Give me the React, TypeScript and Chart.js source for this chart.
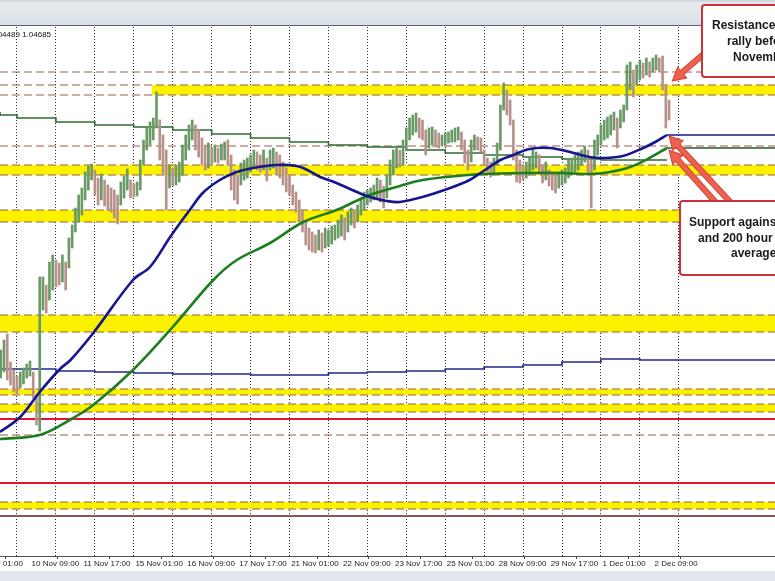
import React, { useEffect, useRef } from "react";
import { Chart, registerables } from "chart.js";

Chart.register(...registerables);

// ---------- axis ranges (hours from 10 Nov 09:00, EURUSD price) ----------
const X_MIN = -19.48;
const X_MAX = 458.3;
const Y_MIN = 0.9588;
const Y_MAX = 1.0646;

// ---------- time axis ----------
const LABEL_HOURS = [-32, 0, 32, 64, 96, 128, 160, 192, 224, 256, 288, 320, 352, 384];
const LABEL_TEXTS = [
  "9 Nov 01:00", "10 Nov 09:00", "11 Nov 17:00", "15 Nov 01:00", "16 Nov 09:00",
  "17 Nov 17:00", "21 Nov 01:00", "22 Nov 09:00", "23 Nov 17:00", "25 Nov 01:00",
  "28 Nov 09:00", "29 Nov 17:00", "1 Dec 01:00", "2 Dec 09:00",
];
const DAY_STARTS = [-9, 15, 39, 63, 87, 111, 135, 159, 183, 207, 231, 255, 279, 303, 327, 351, 375, 399];

// ---------- price bars (2-hour groups) ----------
const BAR_START_HOUR = -19;
const BAR_STEP_HOURS = 2;
const HIGHS = [
  1.0000, 1.0020, 1.0032, 0.9976, 0.9960, 0.9948, 0.9956, 0.9964, 0.9972, 0.9978,
  0.9956, 0.9910, 1.0146, 1.0146, 1.0130, 1.0176, 1.0190, 1.0180, 1.0174, 1.0190,
  1.0176, 1.0224, 1.0250, 1.0284, 1.0310, 1.0324, 1.0356, 1.0368, 1.0372, 1.0360,
  1.0344, 1.0352, 1.0340, 1.0330, 1.0324, 1.0320, 1.0310, 1.0336, 1.0348, 1.0362,
  1.0340, 1.0332, 1.0336, 1.0380, 1.0420, 1.0444, 1.0456, 1.0464, 1.0516, 1.0460,
  1.0430, 1.0400, 1.0370, 1.0364, 1.0370, 1.0376, 1.0410, 1.0430, 1.0450, 1.0460,
  1.0450, 1.0440, 1.0424, 1.0410, 1.0414, 1.0404, 1.0410, 1.0404, 1.0412, 1.0416,
  1.0420, 1.0390, 1.0360, 1.0350, 1.0374, 1.0380, 1.0384, 1.0390, 1.0400, 1.0396,
  1.0390, 1.0400, 1.0384, 1.0400, 1.0404, 1.0396, 1.0390, 1.0376, 1.0364, 1.0350,
  1.0330, 1.0316, 1.0300, 1.0280, 1.0256, 1.0244, 1.0236, 1.0230, 1.0240, 1.0234,
  1.0244, 1.0240, 1.0248, 1.0250, 1.0260, 1.0270, 1.0264, 1.0276, 1.0284, 1.0280,
  1.0290, 1.0304, 1.0316, 1.0320, 1.0324, 1.0330, 1.0344, 1.0340, 1.0328, 1.0350,
  1.0380, 1.0400, 1.0406, 1.0400, 1.0420, 1.0444, 1.0464, 1.0470, 1.0474, 1.0464,
  1.0460, 1.0440, 1.0444, 1.0446, 1.0440, 1.0434, 1.0430, 1.0434, 1.0436, 1.0440,
  1.0444, 1.0446, 1.0436, 1.0420, 1.0400, 1.0420, 1.0430, 1.0426, 1.0424, 1.0400,
  1.0384, 1.0376, 1.0384, 1.0414, 1.0490, 1.0534, 1.0520, 1.0500, 1.0460, 1.0400,
  1.0380, 1.0370, 1.0376, 1.0384, 1.0400, 1.0396, 1.0390, 1.0370, 1.0376, 1.0360,
  1.0356, 1.0350, 1.0356, 1.0360, 1.0364, 1.0380, 1.0384, 1.0390, 1.0396, 1.0400,
  1.0408, 1.0400, 1.0380, 1.0420, 1.0430, 1.0450, 1.0460, 1.0466, 1.0470, 1.0476,
  1.0464, 1.0480, 1.0490, 1.0570, 1.0576, 1.0560, 1.0570, 1.0580, 1.0574, 1.0584,
  1.0576, 1.0584, 1.0590, 1.0584, 1.0588, 1.0530, 1.0500,
];
const LOWS = [
  0.9944, 0.9956, 0.9940, 0.9930, 0.9916, 0.9912, 0.9924, 0.9932, 0.9944, 0.9948,
  0.9904, 0.9850, 0.9838, 1.0080, 1.0074, 1.0100, 1.0120, 1.0126, 1.0130, 1.0136,
  1.0120, 1.0164, 1.0204, 1.0236, 1.0256, 1.0270, 1.0300, 1.0320, 1.0340, 1.0310,
  1.0290, 1.0300, 1.0288, 1.0280, 1.0276, 1.0264, 1.0252, 1.0290, 1.0304, 1.0320,
  1.0304, 1.0306, 1.0308, 1.0320, 1.0370, 1.0400, 1.0410, 1.0420, 1.0444, 1.0380,
  1.0350, 1.0280, 1.0324, 1.0328, 1.0330, 1.0336, 1.0350, 1.0380, 1.0400, 1.0420,
  1.0400, 1.0386, 1.0370, 1.0360, 1.0364, 1.0370, 1.0376, 1.0374, 1.0380, 1.0380,
  1.0370, 1.0320, 1.0300, 1.0292, 1.0330, 1.0340, 1.0344, 1.0356, 1.0364, 1.0360,
  1.0356, 1.0360, 1.0338, 1.0360, 1.0364, 1.0350, 1.0344, 1.0330, 1.0316, 1.0310,
  1.0290, 1.0276, 1.0256, 1.0236, 1.0210, 1.0200, 1.0196, 1.0194, 1.0200, 1.0196,
  1.0204, 1.0208, 1.0212, 1.0220, 1.0224, 1.0228, 1.0220, 1.0236, 1.0250, 1.0244,
  1.0256, 1.0270, 1.0280, 1.0290, 1.0296, 1.0300, 1.0304, 1.0296, 1.0284, 1.0304,
  1.0330, 1.0350, 1.0364, 1.0366, 1.0370, 1.0400, 1.0420, 1.0430, 1.0436, 1.0424,
  1.0420, 1.0390, 1.0404, 1.0410, 1.0406, 1.0404, 1.0408, 1.0410, 1.0414, 1.0416,
  1.0416, 1.0420, 1.0400, 1.0374, 1.0360, 1.0376, 1.0400, 1.0400, 1.0396, 1.0370,
  1.0356, 1.0346, 1.0350, 1.0370, 1.0400, 1.0480, 1.0470, 1.0450, 1.0380, 1.0336,
  1.0334, 1.0340, 1.0344, 1.0350, 1.0360, 1.0364, 1.0356, 1.0334, 1.0340, 1.0328,
  1.0320, 1.0314, 1.0324, 1.0330, 1.0334, 1.0344, 1.0350, 1.0356, 1.0360, 1.0370,
  1.0376, 1.0350, 1.0284, 1.0360, 1.0390, 1.0410, 1.0420, 1.0424, 1.0430, 1.0440,
  1.0404, 1.0444, 1.0456, 1.0480, 1.0520, 1.0506, 1.0530, 1.0540, 1.0544, 1.0550,
  1.0546, 1.0556, 1.0560, 1.0556, 1.0520, 1.0444, 1.0460,
];

// ---------- moving averages (hour, price) ----------
const MA100_HOURS = [-19.5, -7, 5, 17.5, 24, 38, 62.5, 73, 85, 91.5, 97.5, 105.5, 116, 126.5, 136.5, 151, 163.5, 170, 178, 188, 200.5, 208.5, 219, 227, 241, 258, 270, 279.5, 289, 297, 307, 319.5, 332, 344, 352, 364.5, 377, 384.5, 391.7];
const MA100_VALUES = [0.9836, 0.9866, 0.9916, 0.9962, 0.9980, 1.0034, 1.0140, 1.0166, 1.0224, 1.0254, 1.0280, 1.0314, 1.0340, 1.0356, 1.0364, 1.0370, 1.0368, 1.0360, 1.0346, 1.0334, 1.0316, 1.0306, 1.0298, 1.0296, 1.0306, 1.0324, 1.0340, 1.0360, 1.0380, 1.0390, 1.0402, 1.0404, 1.0396, 1.0386, 1.0384, 1.0388, 1.0404, 1.0416, 1.0430];
const MA200_HOURS = [-19.5, 5, 23.5, 38, 62.5, 87, 112, 126.5, 147, 167.5, 188, 208.5, 227, 241, 262.5, 278.5, 303, 327.5, 344, 356.5, 369, 381, 391.7];
const MA200_VALUES = [0.9822, 0.9830, 0.9860, 0.9890, 0.9960, 1.0046, 1.0140, 1.0180, 1.0214, 1.0256, 1.0280, 1.0310, 1.0328, 1.0340, 1.0348, 1.0352, 1.0354, 1.0354, 1.0352, 1.0356, 1.0366, 1.0384, 1.0404];
const MA_LAST_HOUR = 391.7;

// ---------- daily step averages (one value per day segment) ----------
const GREEN_STEP_VALUES = [1.0476, 1.0470, 1.0464, 1.0456, 1.0450, 1.0446, 1.0440, 1.0432, 1.0424, 1.0416, 1.0410, 1.0406, 1.0400, 1.0394, 1.0390, 1.0386, 1.0382, 1.0380];
const BLUE_STEP_VALUES = [0.9968, 0.9962, 0.9962, 0.9958, 0.9956, 0.9954, 0.9952, 0.9952, 0.9950, 0.9950, 0.9954, 0.9956, 0.9958, 0.9962, 0.9966, 0.9970, 0.9976, 0.9982, 0.9980];

// ---------- horizontal levels ----------
const BAND_TOPS = [1.0530, 1.0370, 1.0280, 1.0070, 0.9922, 0.9892, 0.9696];
const BAND_BOTTOMS = [1.0510, 1.0350, 1.0256, 1.0036, 0.9910, 0.9876, 0.9682];
const BAND_STARTS = [74, X_MIN, X_MIN, X_MIN, X_MIN, X_MIN, X_MIN];
const DASHED_LEVELS = [1.0556, 1.0530, 1.0510, 1.0408, 1.0370, 1.0350, 1.0280, 1.0256, 1.0070, 1.0036, 0.9922, 0.9910, 0.9892, 0.9876, 0.9830, 0.9696, 0.9682];
const RED_LEVELS = [0.9862, 0.9734];
const BROWN_LEVELS = [0.9668];

// ---------- annotation targets (hour, price) ----------
const ARROW_TARGET_HOURS = [395, 393, 393];
const ARROW_TARGET_PRICES = [1.0538, 1.0428, 1.0400];

const YELLOW = "#fbf200";
const DASH_COLOR = "#9a5a48";
const UP_COLOR = "#6a9a66";
const DOWN_COLOR = "#b8928a";

function levelDataset(price: number, start: number, color: string, width: number, dash: number[], order: number) {
  return {
    type: "line" as const,
    data: [{ x: start, y: price }, { x: X_MAX, y: price }],
    borderColor: color,
    borderWidth: width,
    borderDash: dash,
    pointRadius: 0,
    fill: false,
    order,
    xAxisID: "x",
    yAxisID: "y",
  };
}

function stepPoints(values: number[], endHour: number) {
  const pts: { x: number; y: number }[] = [];
  const starts = [X_MIN, ...DAY_STARTS];
  values.forEach((v, i) => {
    const h = i < starts.length - 1 ? starts[i] : MA_LAST_HOUR;
    pts.push({ x: h, y: v });
  });
  pts.push({ x: endHour, y: values[values.length - 1] });
  return pts;
}

function drawArrow(ctx: CanvasRenderingContext2D, x1: number, y1: number, x2: number, y2: number) {
  const ang = Math.atan2(y2 - y1, x2 - x1);
  const len = Math.hypot(x2 - x1, y2 - y1);
  const headL = 13, headW = 7, shaftW = 2.6;
  ctx.save();
  ctx.translate(x1, y1);
  ctx.rotate(ang);
  ctx.beginPath();
  ctx.moveTo(0, -shaftW);
  ctx.lineTo(len - headL, -shaftW);
  ctx.lineTo(len - headL, -headW);
  ctx.lineTo(len, 0);
  ctx.lineTo(len - headL, headW);
  ctx.lineTo(len - headL, shaftW);
  ctx.lineTo(0, shaftW);
  ctx.closePath();
  ctx.fillStyle = "#ee6150";
  ctx.fill();
  ctx.strokeStyle = "#d8402f";
  ctx.lineWidth = 1;
  ctx.stroke();
  ctx.restore();
}

function drawBox(ctx: CanvasRenderingContext2D, x: number, y: number, w: number, h: number) {
  ctx.save();
  ctx.beginPath();
  ctx.roundRect(x, y, w, h, 3);
  ctx.fillStyle = "#ffffff";
  ctx.fill();
  ctx.strokeStyle = "#c8343a";
  ctx.lineWidth = 2;
  ctx.stroke();
  ctx.restore();
}

const chromePlugin = {
  id: "chrome",
  beforeDraw(chart: any) {
    const ctx = chart.ctx as CanvasRenderingContext2D;
    ctx.save();
    ctx.fillStyle = "#ffffff";
    ctx.fillRect(0, 0, chart.width, chart.height);
    ctx.restore();
  },
  afterDraw(chart: any) {
    const ctx = chart.ctx as CanvasRenderingContext2D;
    const xs = chart.scales.x;
    const ys = chart.scales.y;
    ctx.save();
    // toolbar strip
    const g = ctx.createLinearGradient(0, 0, 0, 25);
    g.addColorStop(0, "#c9d0d8");
    g.addColorStop(0.12, "#e6eaef");
    g.addColorStop(1, "#d9dfe6");
    ctx.fillStyle = g;
    ctx.fillRect(0, 0, chart.width, 25);
    ctx.fillStyle = "#5d636b";
    ctx.fillRect(0, 25, chart.width, 1);
    // bottom strip
    ctx.fillStyle = "#e2e7ed";
    ctx.fillRect(0, 571, chart.width, chart.height - 571);
    // header text
    ctx.fillStyle = "#111";
    ctx.font = '8px "Liberation Sans", Arial, sans-serif';
    ctx.textBaseline = "middle";
    ctx.textAlign = "left";
    ctx.fillText("1.04489 1.04685", -9, 35);

    // arrows
    const tx = ARROW_TARGET_HOURS.map((h) => xs.getPixelForValue(h));
    const ty = ARROW_TARGET_PRICES.map((p) => ys.getPixelForValue(p));
    drawArrow(ctx, 706, 52, tx[0], ty[0]);
    drawArrow(ctx, 733, 205, tx[1], ty[1]);
    drawArrow(ctx, 718, 205, tx[2], ty[2]);

    // boxes
    drawBox(ctx, 702, 5, 140, 72);
    drawBox(ctx, 680, 201, 160, 74);
    ctx.fillStyle = "#1a1a1a";
    ctx.font = 'bold 12px "Liberation Sans", Arial, sans-serif';
    ctx.textBaseline = "middle";
    ctx.fillText("Resistance stalls the", 712, 26);
    ctx.fillText("rally before the", 727, 42);
    ctx.fillText("November high", 733, 58);
    ctx.fillText("Support against the 100", 689, 223);
    ctx.fillText("and 200 hour moving", 698, 239);
    ctx.fillText("averages", 731, 254);
    ctx.restore();
  },
};

function noPadding(s: any, height: number) {
  s.height = height;
  s.paddingLeft = 0;
  s.paddingRight = 0;
  s.paddingTop = 0;
  s.paddingBottom = 0;
}

export default function App() {
  const ref = useRef<HTMLCanvasElement | null>(null);

  useEffect(() => {
    document.body.style.margin = "0";
    const canvas = ref.current;
    if (!canvas) return;

    const bars = HIGHS.map((hi, k) => ({ x: BAR_START_HOUR + BAR_STEP_HOURS * k, y: [LOWS[k], hi] }));
    const barColors = HIGHS.map((hi, k) => {
      const mid = (hi + LOWS[k]) / 2;
      const prev = k > 0 ? (HIGHS[k - 1] + LOWS[k - 1]) / 2 : mid;
      return mid >= prev ? UP_COLOR : DOWN_COLOR;
    });

    const datasets: any[] = [];
    BAND_TOPS.forEach((top, i) => {
      datasets.push({
        type: "line",
        data: [{ x: BAND_STARTS[i], y: top }, { x: X_MAX, y: top }],
        borderWidth: 0,
        borderColor: "rgba(0,0,0,0)",
        backgroundColor: YELLOW,
        fill: { value: BAND_BOTTOMS[i] },
        pointRadius: 0,
        order: 100,
      });
    });
    DASHED_LEVELS.forEach((p) => datasets.push(levelDataset(p, X_MIN, DASH_COLOR, 1, [8, 4], 90)));
    RED_LEVELS.forEach((p) => datasets.push(levelDataset(p, X_MIN, "#e5132d", 2, [], 80)));
    BROWN_LEVELS.forEach((p) => datasets.push(levelDataset(p, X_MIN, "#8f5656", 2, [], 80)));

    datasets.push({
      type: "line",
      data: stepPoints(GREEN_STEP_VALUES, MA_LAST_HOUR),
      stepped: "after",
      borderColor: "#2f6b30",
      borderWidth: 1.6,
      pointRadius: 0,
      fill: false,
      order: 70,
    });
    datasets.push({
      type: "line",
      data: stepPoints(BLUE_STEP_VALUES, X_MAX),
      stepped: "after",
      borderColor: "#1f2a8c",
      borderWidth: 1.6,
      pointRadius: 0,
      fill: false,
      order: 70,
    });

    datasets.push({
      type: "bar",
      data: bars,
      backgroundColor: barColors,
      borderWidth: 0,
      barThickness: 2,
      order: 50,
    });

    datasets.push({
      type: "line",
      data: MA100_HOURS.map((h, i) => ({ x: h, y: MA100_VALUES[i] })),
      borderColor: "#16168e",
      borderWidth: 2.6,
      tension: 0.35,
      pointRadius: 0,
      fill: false,
      order: 10,
    });
    datasets.push({
      type: "line",
      data: MA200_HOURS.map((h, i) => ({ x: h, y: MA200_VALUES[i] })),
      borderColor: "#1d7d1f",
      borderWidth: 2.6,
      tension: 0.35,
      pointRadius: 0,
      fill: false,
      order: 10,
    });
    datasets.push(levelDataset(MA100_VALUES[MA100_VALUES.length - 1], MA_LAST_HOUR, "#1a1a8a", 1.6, [], 12));
    datasets.push(levelDataset(MA200_VALUES[MA200_VALUES.length - 1], MA_LAST_HOUR, "#2c5a2c", 1.6, [], 12));

    const chart = new Chart(canvas, {
      type: "line",
      data: { datasets },
      options: {
        animation: false,
        responsive: false,
        devicePixelRatio: 1,
        events: [],
        layout: { padding: { top: 27, left: 0, right: 0, bottom: 0 }, autoPadding: false },
        plugins: { legend: { display: false }, tooltip: { enabled: false }, title: { display: false } },
        scales: {
          x: {
            type: "linear",
            min: X_MIN,
            max: X_MAX,
            position: "bottom",
            weight: 1,
            offset: false,
            afterBuildTicks: (s: any) => {
              s.ticks = LABEL_HOURS.map((v) => ({ value: v }));
            },
            afterFit: (s: any) => noPadding(s, 25),
            ticks: {
              autoSkip: false,
              maxRotation: 0,
              minRotation: 0,
              align: "start",
              padding: 0,
              color: "#222",
              font: { family: '"Liberation Sans", Arial, sans-serif', size: 8 },
              callback: (_v: any, i: number) => LABEL_TEXTS[i],
            },
            grid: { drawOnChartArea: false, drawTicks: true, tickLength: 3, color: "#444" },
            border: { display: true, color: "#555", width: 1 },
          },
          xg: {
            type: "linear",
            min: X_MIN,
            max: X_MAX,
            position: "bottom",
            weight: 0,
            offset: false,
            afterBuildTicks: (s: any) => {
              s.ticks = DAY_STARTS.map((v) => ({ value: v }));
            },
            afterFit: (s: any) => noPadding(s, 0),
            ticks: { display: false },
            grid: { drawOnChartArea: true, drawTicks: false, color: "#2a2a2a", lineWidth: 1 },
            border: { display: false, dash: [1, 2] },
          },
          y: { type: "linear", min: Y_MIN, max: Y_MAX, display: false, afterFit: (s: any) => { s.width = 0; s.paddingTop = 0; s.paddingBottom = 0; } },
        },
      } as any,
      plugins: [chromePlugin as any],
    });
    return () => chart.destroy();
  }, []);

  return (
    <div style={{ width: 775, height: 581 }}>
      <canvas ref={ref} width={775} height={581} style={{ display: "block", width: 775, height: 581 }} />
    </div>
  );
}
